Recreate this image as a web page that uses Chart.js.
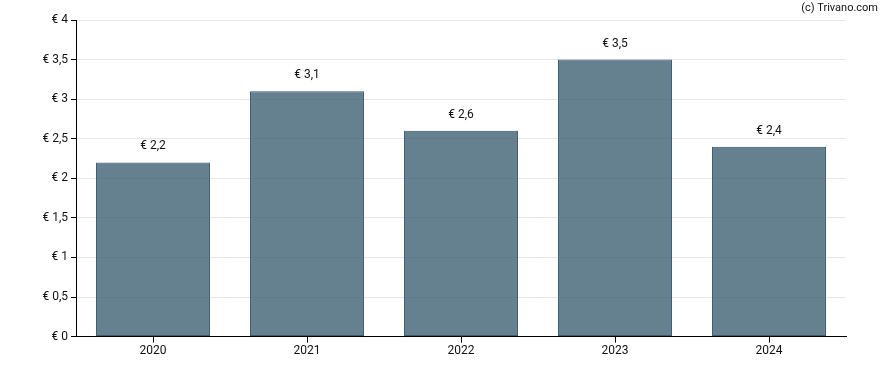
<!DOCTYPE html>
<html><head><meta charset="utf-8">
<script src="https://cdn.jsdelivr.net/npm/chart.js@4/dist/chart.umd.min.js"></script>
<style>html,body{margin:0;padding:0;background:#fff}#wrap{width:888px;height:370px}</style>
</head><body><div id="wrap"><canvas id="c" width="888" height="370"></canvas></div>
<script>
const categories = ["2020","2021","2022","2023","2024"];
const values = [2.2, 3.1, 2.6, 3.5, 2.4];
const yTicks = [0, 0.5, 1, 1.5, 2, 2.5, 3, 3.5, 4];
const credit = "(c) Trivano.com";

const fmt = v => "€ " + String(v).replace(".", ",");
const FONT = "Roboto, 'Liberation Sans', Arial, sans-serif";

const labelPlugin = {
  id: "labels",
  afterDraw(chart) {
    const ctx = chart.ctx;
    const meta = chart.getDatasetMeta(0);
    const xs = chart.scales.x;
    const bottom = chart.chartArea.bottom;
    ctx.save();
    ctx.strokeStyle = "#000000";
    ctx.lineWidth = 1;
    ctx.beginPath();
    xs.ticks.forEach((t, i) => {
      const px = Math.round(xs.getPixelForTick(i)) + 0.5;
      ctx.moveTo(px, bottom);
      ctx.lineTo(px, bottom + 6);
    });
    ctx.stroke();
    ctx.font = "12px " + FONT;
    ctx.fillStyle = "#111";
    ctx.textAlign = "center";
    ctx.textBaseline = "alphabetic";
    meta.data.forEach((bar, i) => {
      ctx.fillText(fmt(values[i]), bar.x, bar.y - 13);
    });
    ctx.font = "11px " + FONT;
    ctx.textAlign = "right";
    ctx.textBaseline = "middle";
    ctx.fillText(credit, 878, 8);
    ctx.restore();
  }
};

new Chart(document.getElementById("c"), {
  type: "bar",
  data: {
    labels: categories,
    datasets: [{
      data: values,
      backgroundColor: "rgba(63,96,115,0.8)",
      borderColor: "#3d5a72",
      borderWidth: 1,
      borderSkipped: false,
      categoryPercentage: 0.74,
      barPercentage: 1
    }]
  },
  options: {
    responsive: false,
    animation: false,
    devicePixelRatio: 1,
    layout: { padding: { left: 0, right: 42, top: 20, bottom: 10 } },
    plugins: { legend: { display: false }, tooltip: { enabled: false } },
    scales: {
      x: {
        grid: { display: false, drawTicks: true, tickLength: 5 },
        border: { display: true, color: "#000", width: 1 },
        ticks: { color: "#111", font: { family: FONT, size: 12 }, padding: 2 }
      },
      y: {
        min: 0, max: 4,
        afterFit(s) { s.width = 76; },
        afterBuildTicks(s) { s.ticks = yTicks.map(v => ({ value: v })); },
        grid: { color: "#e6e6e6", tickColor: "#000", tickLength: 5, drawTicks: true },
        border: { display: true, color: "#000", width: 1 },
        ticks: { color: "#111", font: { family: FONT, size: 12 }, padding: 3, callback: v => fmt(v) }
      }
    }
  },
  plugins: [labelPlugin]
});
</script></body></html>
